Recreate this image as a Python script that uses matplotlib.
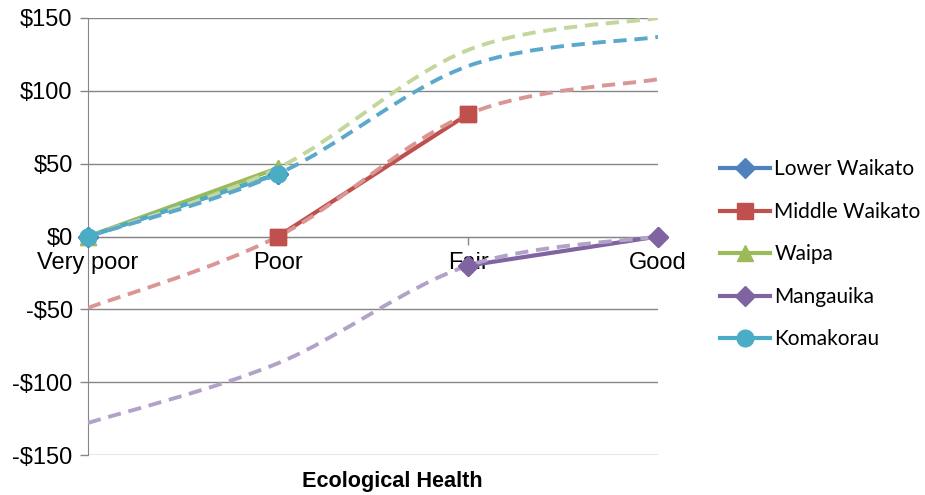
import numpy as np
import matplotlib
matplotlib.use("Agg")
import matplotlib.pyplot as plt
from matplotlib.path import Path
from matplotlib.patches import PathPatch

# categories on the x axis
categories = ["Very poor", "Poor", "Fair", "Good"]

# solid series (None = no value at that category)
lower_waikato = [0, 43, None, None]
middle_waikato = [None, 0, 84, None]
waipa = [0, 47, None, None]
mangauika = [None, None, -20, 0]
komakorau = [0, 43, None, None]

# smoothed dashed curves
trend_red = [-49, 0, 84, 108]
trend_purple = [-128, -87, -20, 0]
trend_green = [0, 47, 128, 150]
trend_blue = [0, 43, 117, 137]

y_ticks = [-150, -100, -50, 0, 50, 100, 150]
y_tick_labels = ["-$150", "-$100", "-$50", "$0", "$50", "$100", "$150"]

grid_col = "#868686"

fig = plt.figure(figsize=(9.25, 4.95), dpi=100)
ax = fig.add_axes([88 / 925, 1 - 455 / 495, 570 / 925, 437 / 495])


def smooth_path(ys):
    # Catmull-Rom style bezier through the points, like a smoothed line
    xs = list(range(len(ys)))
    pts = list(zip(xs, ys))
    verts = [pts[0]]
    codes = [Path.MOVETO]
    n = len(pts)
    for i in range(n - 1):
        p0 = np.array(pts[max(i - 1, 0)], float)
        p1 = np.array(pts[i], float)
        p2 = np.array(pts[i + 1], float)
        p3 = np.array(pts[min(i + 2, n - 1)], float)
        c1 = p1 + (p2 - p0) / 6
        c2 = p2 - (p3 - p1) / 6
        verts += [tuple(c1), tuple(c2), tuple(p2)]
        codes += [Path.CURVE4] * 3
    return Path(verts, codes)


series = [
    ("Lower Waikato", lower_waikato, "#4F81BD", "D", 10.5),
    ("Middle Waikato", middle_waikato, "#C0504D", "s", 11),
    ("Waipa", waipa, "#9BBB59", "^", 12),
    ("Mangauika", mangauika, "#8064A2", "D", 10.5),
    ("Komakorau", komakorau, "#4BACC6", "o", 12),
]

handles = []
for name, vals, col, mk, ms in series:
    xs = [i for i, v in enumerate(vals) if v is not None]
    ys = [v for v in vals if v is not None]
    h, = ax.plot(xs, ys, color=col, lw=3.0, marker=mk, markersize=ms,
                 markeredgecolor=col, label=name, zorder=3, clip_on=False)
    handles.append(h)

trends = [
    (trend_red, "#D99694"),
    (trend_purple, "#B3A2C7"),
    (trend_green, "#C3D69B"),
    (trend_blue, "#5BA8CC"),
]
for vals, col in trends:
    patch = PathPatch(smooth_path(vals), fill=False, edgecolor=col, lw=2.8,
                      linestyle=(0, (3.4, 2.0)), zorder=4)
    ax.add_patch(patch)

# markers on top again
for name, vals, col, mk, ms in series:
    xs = [i for i, v in enumerate(vals) if v is not None]
    ys = [v for v in vals if v is not None]
    ax.plot(xs, ys, linestyle="none", color=col, marker=mk, markersize=ms,
            markeredgecolor=col, zorder=5, clip_on=False)

ax.set_xlim(0, 3)
ax.set_ylim(-150, 150)
ax.set_yticks(y_ticks)
ax.set_yticklabels(y_tick_labels)
ax.set_xticks(range(len(categories)))
ax.set_xticklabels(categories)

ax.grid(axis="y", color=grid_col, lw=1.0, zorder=0)
ax.set_axisbelow(True)

for s in ["top", "right"]:
    ax.spines[s].set_visible(False)
ax.spines["bottom"].set_position(("data", 0))
ax.spines["bottom"].set_color(grid_col)
ax.spines["left"].set_color(grid_col)
ax.spines["bottom"].set_zorder(1)
ax.tick_params(axis="both", colors=grid_col, length=6, width=1.0,
               labelcolor="black", labelsize=17)
ax.tick_params(axis="x", pad=5)
ax.tick_params(axis="y", pad=5)
for lbl in ax.get_xticklabels() + ax.get_yticklabels():
    lbl.set_fontfamily("Liberation Sans")

fig.text(392 / 925, 1 - 482 / 495, "Ecological Health", ha="center", va="center",
         fontsize=15.6, fontweight="bold", family="Liberation Sans")

leg = fig.legend(handles=handles, loc="upper left",
                 bbox_to_anchor=(712 / 925, 1 - 151 / 495), frameon=False,
                 prop={"family": "Lato", "size": 15}, handlelength=2.4,
                 handletextpad=0.2, labelspacing=1.08, borderaxespad=0)

fig.savefig("out.png", dpi=100)
